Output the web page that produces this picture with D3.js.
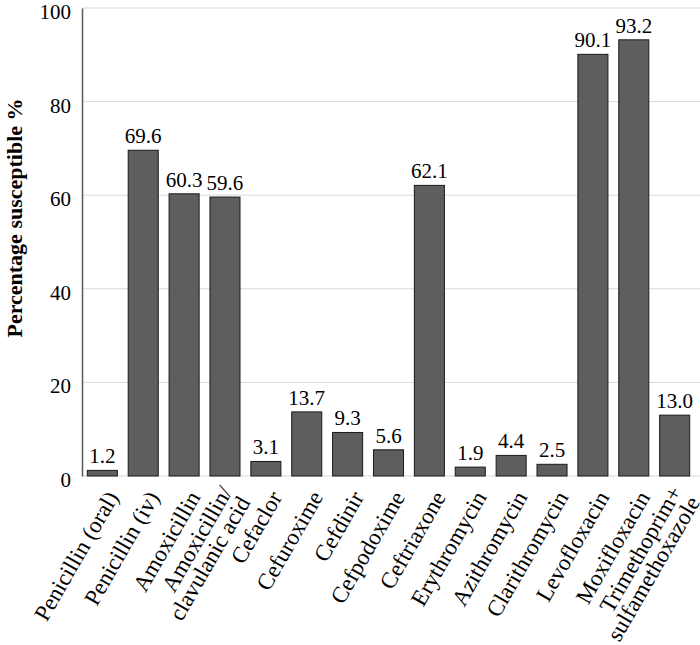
<!DOCTYPE html>
<html><head><meta charset="utf-8">
<script src="https://cdn.jsdelivr.net/npm/d3@7"></script>
<style>body{margin:0;background:#fff}svg{display:block}</style>
</head><body>
<script>
const categories = [
  ["Penicillin (oral)"], ["Penicillin (iv)"], ["Amoxicillin"], ["Amoxicillin/", "clavulanic acid"],
  ["Cefaclor"], ["Cefuroxime"], ["Cefdinir"], ["Cefpodoxime"], ["Ceftriaxone"],
  ["Erythromycin"], ["Azithromycin"], ["Clarithromycin"], ["Levofloxacin"], ["Moxifloxacin"],
  ["Trimethoprim+", "sulfamethoxazole"]
];
const values = [1.2, 69.6, 60.3, 59.6, 3.1, 13.7, 9.3, 5.6, 62.1, 1.9, 4.4, 2.5, 90.1, 93.2, 13.0];
const yTicks = [0, 20, 40, 60, 80, 100];
const yTitle = "Percentage susceptible %";

const W = 700, H = 645;
const m = {left: 82, right: 5, top: 8, bottom: 169};
const font = "'Liberation Serif','Times New Roman',serif";

const svg = d3.select("body").append("svg").attr("width", W).attr("height", H)
  .style("font-family", font);

const keys = categories.map((c, i) => i);
const x = d3.scaleBand().domain(keys).range([m.left, W - m.right]).paddingInner(0.265).paddingOuter(0.13);
const y = d3.scaleLinear().domain([0, 100]).range([H - m.bottom, m.top]);

// gridlines
svg.append("g").selectAll("line").data(yTicks).join("line")
  .attr("x1", m.left).attr("x2", W).attr("y1", d => y(d)).attr("y2", d => y(d))
  .attr("stroke", "#d9d9d9").attr("stroke-width", 1);

// y axis
const yAxis = d3.axisLeft(y).tickValues(yTicks).tickSize(0).tickPadding(11).tickFormat(d3.format("d"));
const ga = svg.append("g").attr("transform", `translate(${m.left},0)`).call(yAxis);
ga.select(".domain").attr("stroke", "#595959").attr("stroke-width", 1.5);
ga.selectAll("text").attr("font-family", font).attr("font-size", 21).attr("fill", "#000").attr("dy", "0.5em");

// bars
svg.append("g").selectAll("rect").data(values).join("rect")
  .attr("x", (d, i) => x(i)).attr("width", x.bandwidth())
  .attr("y", d => y(d)).attr("height", d => y(0) - y(d))
  .attr("fill", "#5e5e5e").attr("stroke", "#1a1a1a").attr("stroke-width", 1);

// value labels
svg.append("g").selectAll("text").data(values).join("text")
  .attr("x", (d, i) => x(i) + x.bandwidth() / 2).attr("y", d => y(d) - 7)
  .attr("text-anchor", "middle").attr("font-size", 21).attr("fill", "#000")
  .text(d => d.toFixed(1));

// x labels
const xl = svg.append("g").selectAll("text").data(categories).join("text")
  .attr("transform", (d, i) => `translate(${x(i) + x.bandwidth() / 2 + 10},${y(0) + 17}) rotate(-60)`)
  .attr("text-anchor", "end").attr("font-size", 23).attr("fill", "#000");
xl.each(function(d) {
  const t = d3.select(this);
  const n = d.length;
  d.forEach((line, j) => {
    t.append("tspan").attr("x", 0).attr("y", 0)
      .attr("dy", ((j - (n - 1) / 2) * 0.9 + 0.35) + "em").text(line);
  });
});

// y title
svg.append("text").attr("transform", `translate(22,218) rotate(-90)`)
  .attr("text-anchor", "middle").attr("font-size", 22).attr("font-weight", "bold")
  .text(yTitle);
</script>
</body></html>
